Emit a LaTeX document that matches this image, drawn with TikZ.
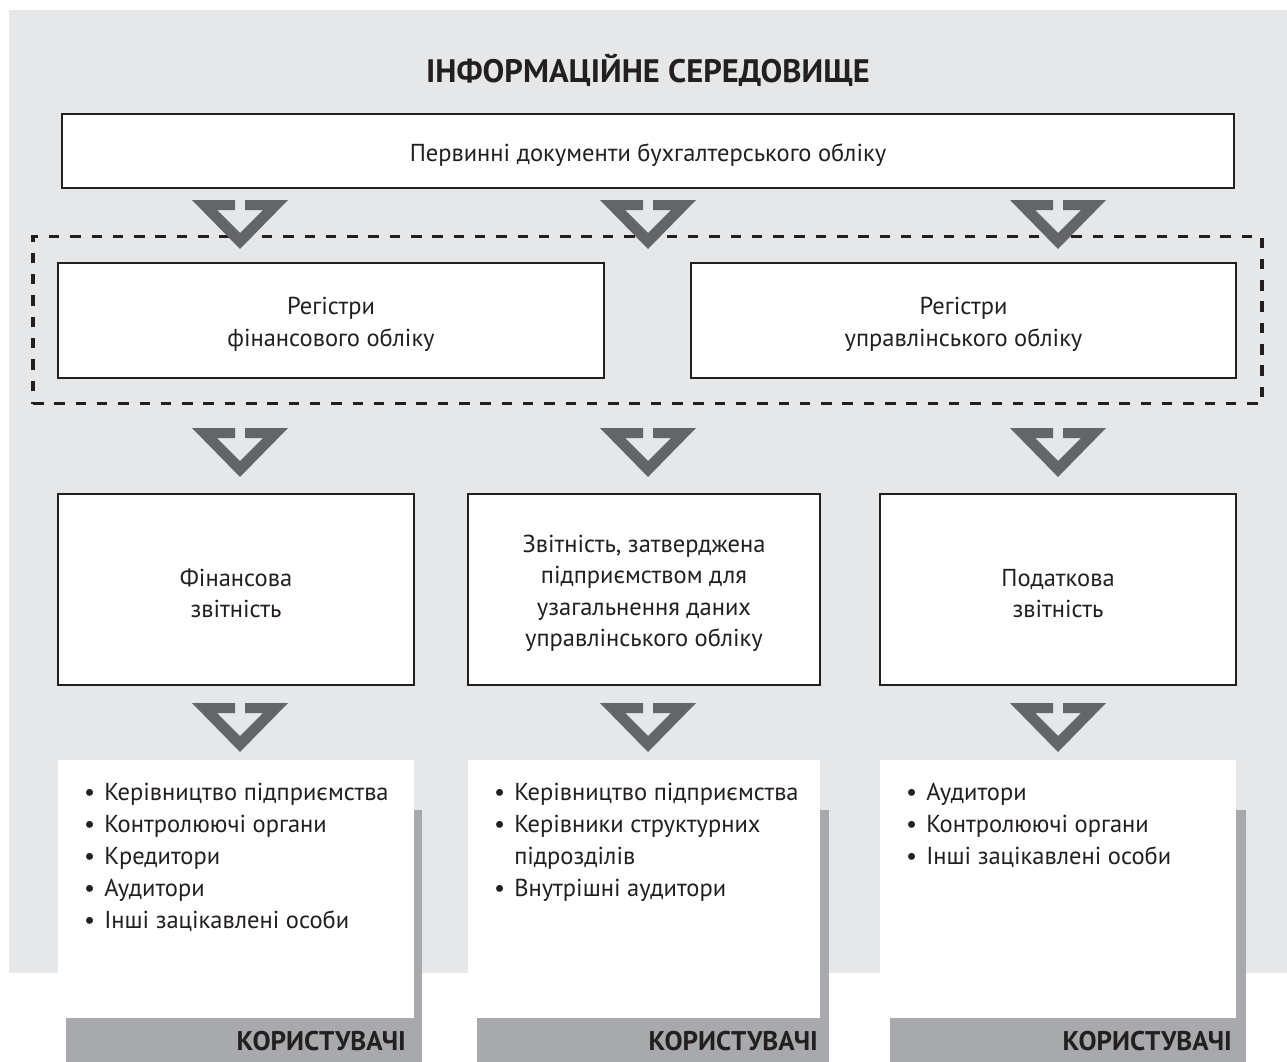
\documentclass[tikz,border=0pt]{standalone}
\usepackage{fontspec}
\setmainfont{PT Sans}
\definecolor{bggrey}{HTML}{E6E7E8}
\definecolor{arrowgrey}{HTML}{646569}
\definecolor{shadowgrey}{HTML}{A7A9AC}
\definecolor{ink}{HTML}{231F20}
\tikzset{
  box/.style={draw=ink, line width=1.5pt, fill=white, inner sep=0pt},
  boxtext/.style={text=ink, inner sep=0pt, align=center, font=\fontsize{24.5}{31.5}\selectfont},
  userbox/.style={fill=white, inner sep=0pt},
  shadowbox/.style={fill=shadowgrey, inner sep=0pt},
  listtext/.style={text=ink, inner sep=0pt, anchor=base west, font=\fontsize{24.5}{32}\selectfont},
  usertitle/.style={text=ink, inner sep=0pt, anchor=base east, font=\bfseries\fontsize{27}{30}\selectfont},
  dashframe/.style={draw=ink, line width=3.4pt, dash pattern=on 10.5pt off 10.8pt, inner sep=0pt},
  chev/.pic={
    \fill[arrowgrey] (-48,0) -- (-5,0) -- (-5,10) -- (-23,10) -- (0,33) -- (23,10) -- (5,10) -- (5,0)
      -- (48,0) -- (0,49) -- cycle;
  }
}
\begin{document}
\begin{tikzpicture}[x=1pt,y=-1pt]
\useasboundingbox (0,0) rectangle (1287,1062);
\fill[bggrey] (9,10) rectangle (1287,973);

\node[text=ink, inner sep=0pt, font=\bfseries\fontsize{32.5}{38}\selectfont] (title) at (648,70) {ІНФОРМАЦІЙНЕ СЕРЕДОВИЩЕ};

\node[dashframe, minimum width=1229pt, minimum height=167pt] (frame) at (647.5,320) {};

\node[box, minimum width=1172pt, minimum height=74pt] (primary) at (648,151) {};
\node[boxtext] (primaryt) at ([yshift=-4pt]primary.center) {Первинні документи бухгалтерського обліку};

\node[box, minimum width=546pt, minimum height=115pt] (regfin) at (331,320.5) {};
\node[boxtext] (regfint) at ([yshift=-4pt]regfin.center) {Регістри\\фінансового обліку};
\node[box, minimum width=545pt, minimum height=115pt] (regman) at (963.5,320.5) {};
\node[boxtext] (regmant) at ([yshift=-4pt]regman.center) {Регістри\\управлінського обліку};

\node[box, minimum width=356pt, minimum height=191pt] (repfin) at (236,589.5) {};
\node[boxtext] (repfint) at ([yshift=-4pt]repfin.center) {Фінансова\\звітність};
\node[box, minimum width=352pt, minimum height=191pt] (repman) at (644,589.5) {};
\node[boxtext] (repmant) at ([yshift=-4pt]repman.center) {Звітність, затверджена\\підприємством для\\узагальнення даних\\управлінського обліку};
\node[box, minimum width=356pt, minimum height=191pt] (reptax) at (1058,589.5) {};
\node[boxtext] (reptaxt) at ([yshift=-4pt]reptax.center) {Податкова\\звітність};

% block arrows
\pic at (240,200) {chev};
\pic at (648,200) {chev};
\pic at (1058,200) {chev};
\pic at (240,428) {chev};
\pic at (648,428) {chev};
\pic at (1058,428) {chev};
\pic at (240,703) {chev};
\pic at (648,703) {chev};
\pic at (1058,703) {chev};

% user boxes: shadow then white
\node[shadowbox, minimum width=356pt, minimum height=252pt] (shfin) at (244,936) {};
\node[shadowbox, minimum width=352pt, minimum height=252pt] (shman) at (653,936) {};
\node[shadowbox, minimum width=356pt, minimum height=252pt] (shtax) at (1068,936) {};

\node[userbox, minimum width=356pt, minimum height=258pt] (usfin) at (236,889) {};
\node[userbox, minimum width=352pt, minimum height=258pt] (usman) at (644,889) {};
\node[userbox, minimum width=356pt, minimum height=258pt] (ustax) at (1058,889) {};

\node[listtext] (lfin) at (84,800) {\begin{tabular}[t]{@{}l@{\hspace{9pt}}l@{}}
\textbullet & Керівництво підприємства\\
\textbullet & Контролюючі органи\\
\textbullet & Кредитори\\
\textbullet & Аудитори\\
\textbullet & Інші зацікавлені особи
\end{tabular}};
\node[listtext] (lman) at (494,800) {\begin{tabular}[t]{@{}l@{\hspace{9pt}}l@{}}
\textbullet & Керівництво підприємства\\
\textbullet & Керівники структурних\\
 & підрозділів\\
\textbullet & Внутрішні аудитори
\end{tabular}};
\node[listtext] (ltax) at (906,800) {\begin{tabular}[t]{@{}l@{\hspace{9pt}}l@{}}
\textbullet & Аудитори\\
\textbullet & Контролюючі органи\\
\textbullet & Інші зацікавлені особи
\end{tabular}};

\node[usertitle] (ufin) at (406,1050) {КОРИСТУВАЧІ};
\node[usertitle] (uman) at (818,1050) {КОРИСТУВАЧІ};
\node[usertitle] (utax) at (1232,1050) {КОРИСТУВАЧІ};
\end{tikzpicture}
\end{document}
